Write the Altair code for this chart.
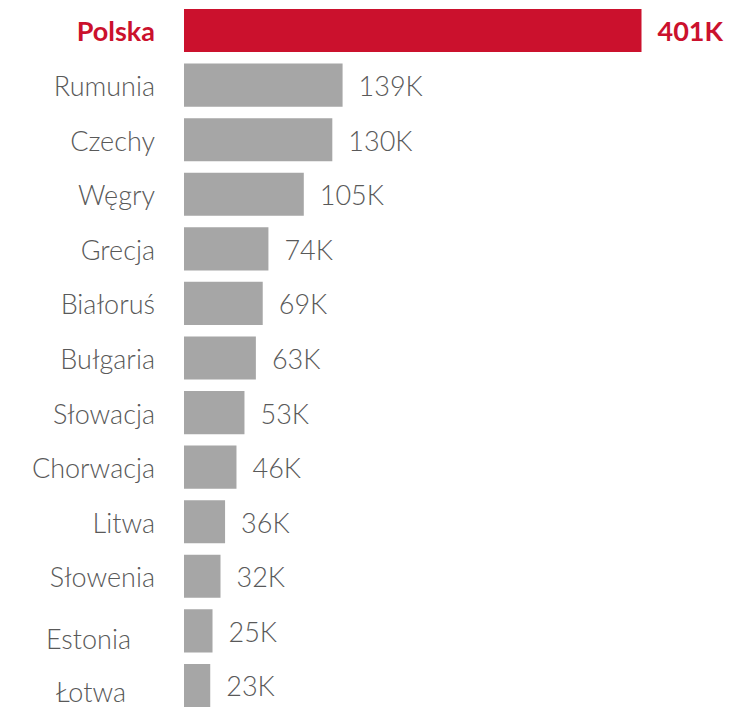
import altair as alt
import pandas as pd

countries = ["Polska", "Rumunia", "Czechy", "Węgry", "Grecja", "Białoruś", "Bułgaria",
             "Słowacja", "Chorwacja", "Litwa", "Słowenia", "Estonia", "Łotwa"]
values = [401, 139, 130, 105, 74, 69, 63, 53, 46, 36, 32, 25, 23]
labels = [f"{v}K" for v in values]

df = pd.DataFrame({"country": countries, "value": values, "label": labels})

RED = "#cb112d"
GRAY = "#a6a6a6"
TXT = "#595959"
FONT = "Lato"
FS = 27

y = alt.Y("country:N", sort=countries, axis=None,
          scale=alt.Scale(paddingInner=0.21, paddingOuter=0, domain=countries))
x = alt.X("value:Q", axis=None,
          scale=alt.Scale(domain=[0, 440], nice=False, zero=True))

base = alt.Chart(df)

bars = base.mark_bar().encode(
    x=x, y=y,
    color=alt.condition("datum.country == 'Polska'", alt.value(RED), alt.value(GRAY)),
)

hl = base.transform_filter("datum.country == 'Polska'")
rest = base.transform_filter("datum.country != 'Polska'")
names_main = base.transform_filter(
    "datum.country != 'Polska' && datum.country != 'Estonia' && datum.country != 'Łotwa'")
names_est = base.transform_filter("datum.country == 'Estonia'")
names_lot = base.transform_filter("datum.country == 'Łotwa'")

common = dict(baseline="alphabetic", fontSize=FS, font=FONT)

vals_hl = hl.mark_text(align="left", dx=16, dy=10, fontWeight="bold", color=RED, **common).encode(
    x=x, y=y, text="label:N")
vals_rest = rest.mark_text(align="left", dx=16, dy=11, fontWeight=300, color=TXT, **common).encode(
    x=x, y=y, text="label:N")

names_hl = hl.mark_text(align="right", dx=-29, dy=10, fontWeight="bold", color=RED, **common).encode(
    x=alt.value(0), y=y, text="country:N")
names_rest = names_main.mark_text(align="right", dx=-29, dy=11, fontWeight=300, color=TXT,
                                  **common).encode(x=alt.value(0), y=y, text="country:N")
names_e = names_est.mark_text(align="right", dx=-53, dy=18, fontWeight=300, color=TXT,
                              **common).encode(x=alt.value(0), y=y, text="country:N")
names_l = names_lot.mark_text(align="right", dx=-58, dy=17, fontWeight=300, color=TXT,
                              **common).encode(x=alt.value(0), y=y, text="country:N")

chart = alt.layer(bars, vals_hl, vals_rest, names_hl, names_rest, names_e, names_l).properties(
    width=502, height=698,
    autosize=alt.AutoSizeParams(type="none"),
    padding={"left": 176, "top": 1, "right": 40, "bottom": 4},
).configure_view(stroke=None)

chart.save("out.html", embed_options={"renderer": "svg", "actions": False})
